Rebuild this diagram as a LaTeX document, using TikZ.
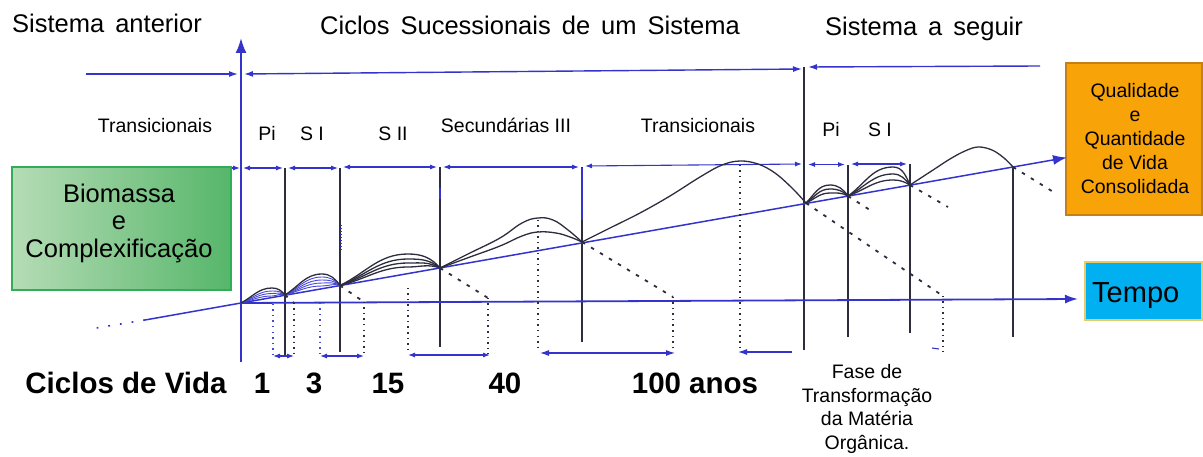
\documentclass[tikz,border=0pt]{standalone}
\usepackage{fontspec}
\setmainfont{Liberation Sans}
\usetikzlibrary{arrows.meta}
\definecolor{lb}{RGB}{52,52,205}
\definecolor{lbc}{RGB}{70,70,215}
\definecolor{dk}{RGB}{45,45,62}
\definecolor{gL}{RGB}{182,220,182}
\definecolor{gR}{RGB}{86,182,106}
\definecolor{gB}{RGB}{50,172,88}
\definecolor{orF}{RGB}{248,164,8}
\definecolor{orB}{RGB}{196,128,22}
\definecolor{cyF}{RGB}{0,176,240}
\definecolor{cyB}{RGB}{232,202,104}
\newcommand{\wsp}{\hspace{11pt}}
\begin{document}
\begin{tikzpicture}[x=1pt,y=1pt,
  bl/.style={draw=lb,line width=1.4pt},
  vl/.style={draw=dk,line width=1.2pt},
  dkc/.style={draw=dk,line width=1.3pt},
  blc/.style={draw=lbc,line width=0.9pt},
  dotv/.style={draw=dk,line width=1.3pt,dash pattern=on 1.5pt off 4pt},
  dsh/.style={draw=dk,line width=1.8pt,dash pattern=on 3.5pt off 7pt},
  tip/.style={-{Latex[length=9pt,width=6pt]}},
  ltip/.style={{Latex[length=9pt,width=6pt]}-},
  dbl/.style={{Latex[length=7pt,width=5pt]}-{Latex[length=7pt,width=5pt]}},
  ttl/.style={font=\fontsize{25.5}{28}\selectfont,anchor=base},
  lab/.style={font=\fontsize{19.5}{23}\selectfont,anchor=base},
  big/.style={font=\bfseries\fontsize{29.5}{33}\selectfont,anchor=base}
]
\useasboundingbox (0,0) rectangle (1203,-457);

% ---------- junction coordinates ----------
\coordinate (J0) at (241,-303);
\coordinate (J1) at (285,-295);
\coordinate (J2) at (340,-285.5);
\coordinate (J3) at (440,-268);
\coordinate (J4) at (582,-242);
\coordinate (J5) at (806,-203);
\coordinate (J6) at (848,-196);
\coordinate (J7) at (910,-185);
\coordinate (J8) at (1013,-167);

% ---------- boxes ----------
\node[draw=gB,line width=1.5pt,left color=gL,right color=gR,minimum width=219pt,minimum height=123pt,inner sep=0pt] (bioBox) at (121.5,-228.5) {};
\node[align=center,font=\fontsize{25.5}{27.5}\selectfont] (bioTxt) at (119,-223) {Biomassa\\e\\Complexificação};
\node[draw=orB,line width=1.5pt,fill=orF,minimum width=136pt,minimum height=152pt,inner sep=0pt] (qBox) at (1134,-139) {};
\node[align=center,font=\fontsize{19.5}{24}\selectfont] (qTxt) at (1135,-139) {Qualidade\\e\\Quantidade\\de Vida\\Consolidada};
\node[draw=cyB,line width=1.2pt,fill=cyF,minimum width=117pt,minimum height=58pt,inner sep=0pt] (tBox) at (1143.5,-291) {};
\node[font=\fontsize{29}{33}\selectfont,anchor=base west,inner sep=0pt] (tTxt) at (1092,-302) {Tempo};

% ---------- titles ----------
\node[ttl] (t1) at (107,-33) {Sistema\wsp anterior};
\node[ttl] (t2) at (530,-35) {Ciclos\wsp Sucessionais\wsp de\wsp um\wsp Sistema};
\node[ttl] (t3) at (924,-36) {Sistema\wsp a\wsp seguir};

% ---------- stage labels ----------
\node[lab] (s1) at (155,-133) {Transicionais};
\node[lab] (s2) at (267,-141) {Pi};
\node[lab] (s3) at (312,-141) {S I};
\node[lab] (s4) at (393,-141) {S II};
\node[lab] (s5) at (506,-133) {Secundárias III};
\node[lab] (s6) at (698,-133) {Transicionais};
\node[lab] (s7) at (831,-137) {Pi};
\node[lab] (s8) at (880,-137) {S I};

% ---------- bottom labels ----------
\node[big] (c0) at (126,-393) {Ciclos de Vida};
\node[big] (c1) at (262,-393) {1};
\node[big] (c2) at (314,-393) {3};
\node[big] (c3) at (388,-393) {15};
\node[big] (c4) at (505,-393) {40};
\node[big] (c5) at (695,-393) {100 anos};
\node[align=center,font=\fontsize{19.5}{23.5}\selectfont] (fase) at (867,-409) {Fase de\\Transformação\\da Matéria\\Orgânica.};

% ---------- top system arrows ----------
\coordinate (a0) at (86,-74);  \coordinate (a1) at (238,-74);
\coordinate (a2) at (244,-74); \coordinate (a3) at (802,-69);
\coordinate (a4) at (808,-67); \coordinate (a5) at (1040,-66);
\draw[bl,tip] (a0) -- (a1);
\draw[bl,{Latex[length=9pt,width=6pt]}-{Latex[length=9pt,width=6pt]}] (a2) -- (a3);
\draw[bl,ltip] (a4) -- (a5);

% ---------- main vertical axis ----------
\coordinate (v0) at (241,-362); \coordinate (v1) at (241,-38);
\draw[draw=lb,line width=2pt,-{Latex[length=15pt,width=11pt]}] (v0) -- (v1);

% ---------- verticals ----------
\draw[vl] (804,-67) -- (804,-350);
\draw[vl] (285,-168) -- (285,-357);
\draw[vl] (340,-168) -- (340,-352);
\draw[vl] (440,-167) -- (440,-347);
\draw[vl] (582,-167) -- (582,-342);
\draw[vl] (848,-165) -- (848,-337);
\draw[vl] (910,-164) -- (910,-333);
\draw[vl] (1013,-167) -- (1013,-337);
\draw[draw=lb,line width=1.6pt,dash pattern=on 1.5pt off 1.5pt] (341,-225) -- (341,-252);
\draw[draw=lb,line width=1.2pt] (440,-188) -- (440,-199);
\draw[draw=lb,line width=1.2pt] (582,-168) -- (582,-220);

% ---------- second row arrows ----------
\draw[draw=lb,line width=1.1pt,-{Latex[length=7pt,width=5pt]}] (232,-168) -- (240,-168);
\draw[draw=lb,line width=1.1pt,dbl] (243,-168) -- (283,-168);
\draw[draw=lb,line width=1.1pt,dbl] (288,-168) -- (338,-168);
\draw[draw=lb,line width=1.1pt,dbl] (343,-167) -- (437,-167);
\draw[draw=lb,line width=1.1pt,dbl] (443,-167) -- (579,-167);
\draw[draw=lb,line width=1.1pt,dbl] (585,-166) -- (802,-164);
\draw[draw=lb,line width=1.1pt,dbl] (808,-164.5) -- (845,-164.5);
\draw[draw=lb,line width=1.1pt,dbl] (851,-164) -- (907,-164);

% ---------- axes ----------
\coordinate (Ttip) at (1078,-299);
\draw[draw=lb,line width=1.8pt,-{Latex[length=13pt,width=9pt]}] (J0) -- (Ttip);
\coordinate (Qtip) at (1067,-157.5);
\draw[draw=lb,line width=1.5pt,-{Latex[length=14pt,width=10pt]}] (J0) -- (Qtip);
\coordinate (L1) at (145,-320); \coordinate (L2) at (90,-329);
\draw[draw=lb,line width=1.5pt] (J0) -- (L1);
\draw[draw=lb,line width=1.6pt,dash pattern=on 1.8pt off 10pt] (L1) -- (L2);

% ---------- growth curves ----------
% cycle 1
\draw[blc] (J0) to[out=14,in=180] (272,-296) to[out=0,in=155] (J1);
\draw[blc] (J0) to[out=18,in=180] (272,-293.5) to[out=0,in=145] (J1);
\draw[blc] (J0) to[out=22,in=180] (272,-291) to[out=0,in=135] (J1);
\draw[dkc] (J0) to[out=28,in=180] (272,-288) to[out=0,in=128] (J1);
% cycle 2
\draw[blc] (J1) to[out=16,in=180] (322,-286) to[out=0,in=160] (J2);
\draw[blc] (J1) to[out=20,in=180] (322,-283) to[out=0,in=150] (J2);
\draw[blc] (J1) to[out=24,in=180] (322,-280) to[out=0,in=140] (J2);
\draw[blc] (J1) to[out=28,in=180] (322,-277) to[out=0,in=132] (J2);
\draw[dkc] (J1) to[out=32,in=180] (322,-274) to[out=0,in=125] (J2);
% cycle 3
\draw[dkc] (J2) to[out=14,in=180] (408,-267) to[out=0,in=160] (J3);
\draw[dkc] (J2) to[out=18,in=180] (408,-263) to[out=0,in=150] (J3);
\draw[dkc] (J2) to[out=22,in=180] (408,-259) to[out=0,in=140] (J3);
\draw[dkc] (J2) to[out=26,in=180] (408,-254) to[out=0,in=130] (J3);
% cycle 4
\draw[dkc] plot[smooth,tension=0.7] coordinates {(J3) (470,-257) (500,-246) (522,-236) (538,-232) (556,-233) (570,-237) (J4)};
\draw[dkc] plot[smooth,tension=0.7] coordinates {(J3) (470,-253) (500,-238) (522,-223) (538,-218) (553,-220) (568,-230) (J4)};
% cycle 5
\draw[dkc] plot[smooth,tension=0.6] coordinates {(J4) (610,-228) (640,-213) (670,-196) (700,-177) (722,-165) (740,-161) (758,-164) (775,-173) (792,-188) (J5)};
% cycle 6
\draw[dkc] (J5) to[out=25,in=180] (830,-193) to[out=0,in=150] (J6);
\draw[dkc] (J5) to[out=35,in=180] (830,-189) to[out=0,in=135] (J6);
\draw[dkc] (J5) to[out=45,in=180] (830,-185) to[out=0,in=125] (J6);
% cycle 7
\draw[dkc] (J6) to[out=20,in=180] (893,-180) to[out=0,in=150] (J7);
\draw[dkc] (J6) to[out=28,in=180] (893,-174) to[out=0,in=130] (J7);
\draw[dkc] (J6) to[out=35,in=180] (893,-167) to[out=0,in=115] (J7);
% cycle 8
\draw[dkc] plot[smooth,tension=0.6] coordinates {(J7) (930,-172) (950,-159) (965,-151) (978,-147) (992,-150) (1004,-158) (J8)};

% ---------- decomposition (dashed) ----------
\coordinate (D1) at (294,-303);
\coordinate (D2) at (364,-302);
\coordinate (D3) at (488,-298);
\coordinate (D4) at (673,-297);
\coordinate (D5) at (943,-296);
\draw[dsh] (J1) -- (D1);
\draw[dsh] (J2) -- (D2);
\draw[dsh] (J3) -- (D3);
\draw[dsh] (J4) -- (D4);
\draw[dsh] (J5) -- (D5);
\draw[dsh] (J6) -- (873,-212);
\draw[dsh] (J7) -- (948,-207);
\draw[dsh] (J8) -- (1055,-193);

% ---------- dotted verticals ----------
\draw[dotv] (D1) -- (294,-356);
\draw[dotv] (D2) -- (364,-356);
\draw[dotv] (D3) -- (488,-354);
\draw[dotv] (D4) -- (673,-352);
\draw[dotv] (D5) -- (943,-352);
\draw[dotv,draw=lbc] (273,-304) -- (273,-356);
\draw[dotv,draw=lbc] (320,-303) -- (320,-356);
\draw[dotv] (408,-288) -- (408,-352);
\draw[dotv] (538,-220) -- (538,-350);
\draw[dotv] (740,-165) -- (740,-350);

% ---------- duration arrows ----------
\draw[draw=lb,line width=1.1pt,dbl] (273,-356) -- (294,-356);
\draw[draw=lb,line width=1.1pt,dbl] (320,-356) -- (364,-356);
\draw[draw=lb,line width=1.1pt,dbl] (408,-355) -- (490,-355);
\draw[draw=lb,line width=1.1pt,{Latex[length=9pt,width=6pt]}-{Latex[length=9pt,width=6pt]}] (540,-353) -- (675,-353);
\draw[draw=lb,line width=1.1pt,{Latex[length=9pt,width=6pt]}-] (738,-352) -- (792,-352);
\draw[draw=lb,line width=1.1pt] (932,-348) -- (939,-349);
\end{tikzpicture}
\end{document}
